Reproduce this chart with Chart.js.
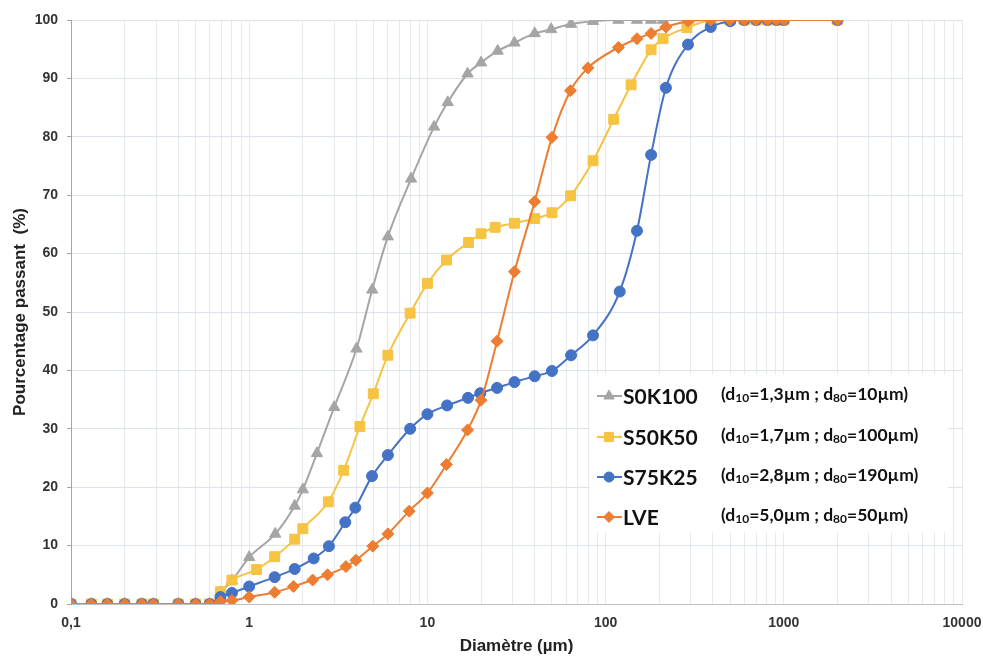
<!DOCTYPE html>
<html><head><meta charset="utf-8">
<script src="https://cdn.jsdelivr.net/npm/chart.js@4.4.1/dist/chart.umd.min.js"></script>
<style>html,body{margin:0;padding:0;background:#fff}#wrap{width:983px;height:657px}</style>
</head><body><div id="wrap"><canvas id="c" width="983" height="657"></canvas></div>
<script>
// ---- data ----
const seriesNames = ['S0K100', 'S50K50', 'S75K25', 'LVE'];
const legendD10 = ['1,3', '1,7', '2,8', '5,0'];
const legendD80 = ['10', '100', '190', '50'];

const s0k100X = [0.1,0.13,0.16,0.2,0.25,0.29,0.4,0.5,0.6,0.69,0.8,1.0,1.4,1.8,2.0,2.4,3.0,4.0,4.9,6.0,8.1,10.9,13,16.8,20,24.8,30.8,40,49.5,64,85,118,150,180,210,290,390,500,600,700,810,910,1000,2000];
const s0k100Y = [0,0,0,0,0,0,0,0,0,2,4,8,12,16.8,19.6,25.8,33.7,43.7,53.8,62.9,72.8,81.7,85.9,90.8,92.7,94.7,96.1,97.7,98.4,99.3,99.8,100,100,100,100,100,100,100,100,100,100,100,100,100];

const s50k50X = [0.1,0.13,0.16,0.2,0.25,0.29,0.4,0.5,0.6,0.69,0.8,1.1,1.39,1.8,2.0,2.78,3.39,4.18,4.97,6.0,8.0,10,12.8,17,20,24,30.8,40,50,63.6,85,111,139,180,210,286,389,500,600,700,810,910,1000,2000];
const s50k50Y = [0,0,0,0,0,0,0,0,0,2.1,4.1,5.9,8.1,11.1,12.9,17.5,22.9,30.4,36,42.6,49.8,54.9,58.9,61.9,63.4,64.5,65.2,66,67,69.9,75.9,83,88.9,94.9,96.8,98.7,99.9,100,100,100,100,100,100,100];

const s75k25X = [0.1,0.13,0.16,0.2,0.25,0.29,0.4,0.5,0.6,0.69,0.8,1.0,1.39,1.8,2.3,2.8,3.46,3.94,4.89,6.0,8.0,10,12.9,16.9,19.8,24.6,30.8,40,50,64,85,120,150,180,218,290,389,500,600,700,810,910,1000,2000];
const s75k25Y = [0,0,0,0,0,0,0,0,0,1.2,1.9,3.0,4.6,6.0,7.8,9.9,14,16.5,21.9,25.5,30,32.5,34,35.3,36.1,37,38,39,39.9,42.6,46,53.5,63.9,76.9,88.4,95.8,98.8,99.8,100,100,100,100,100,100];

const lveX = [0.1,0.13,0.16,0.2,0.25,0.29,0.4,0.5,0.6,0.69,0.8,1.0,1.39,1.77,2.27,2.75,3.49,3.97,4.94,6.0,7.9,10,12.8,16.8,20,24.6,30.8,40,50,63.5,79.6,118,150,180,218,290,389,500,600,700,810,910,1000,2000];
const lveY = [0,0,0,0,0,0,0,0,0,0.4,0.6,1.2,2.0,3.0,4.1,5.0,6.4,7.5,9.9,12,15.9,19,23.9,29.8,34.9,45,56.9,68.9,79.9,87.9,91.8,95.3,96.8,97.7,98.8,99.8,100,100,100,100,100,100,100,100];

const xMajorTicks = [0.1, 1, 10, 100, 1000, 10000];
const xTickLabels = ['0,1', '1', '10', '100', '1000', '10000'];
const yTicks = [0,10,20,30,40,50,60,70,80,90,100];

// ---- build ----
const colors = ['#A5A5A5', '#F6C343', '#4472C4', '#ED7D31'];
const styles = ['triangle', 'rect', 'circle', 'rectRot'];
const radii = [6.5, 7, 5.5, 6];
const xs = [s0k100X, s50k50X, s75k25X, lveX];
const ys = [s0k100Y, s50k50Y, s75k25Y, lveY];
const orders = [3, 2, 1, 0];

const datasets = seriesNames.map((name, i) => ({
  label: name,
  data: xs[i].map((x, j) => ({x: x, y: ys[i][j]})),
  showLine: true,
  borderColor: colors[i],
  backgroundColor: colors[i],
  borderWidth: 2,
  pointStyle: styles[i],
  pointRadius: radii[i],
  pointBorderWidth: 1,
  pointBorderColor: colors[i],
  pointBackgroundColor: colors[i],
  cubicInterpolationMode: 'monotone',
  order: orders[i]
}));

const gridVals = [];
for (let d = 0; d < xMajorTicks.length - 1; d++) {
  for (let k = 1; k <= 9; k++) gridVals.push(+(k * xMajorTicks[d]).toPrecision(6));
}
gridVals.push(xMajorTicks[xMajorTicks.length - 1]);

function majorLabel(v) {
  for (let i = 0; i < xMajorTicks.length; i++) {
    if (Math.abs(v - xMajorTicks[i]) / xMajorTicks[i] < 1e-6) return xTickLabels[i];
  }
  return '';
}

const legendPlugin = {
  id: 'customLegend',
  afterDraw(chart) {
    const ctx = chart.ctx;
    ctx.save();
    ctx.fillStyle = '#ffffff';
    ctx.fillRect(590, 374, 358, 158);
    const rowY = [396, 437, 477, 517];
    [0, 1, 2, 3].forEach((i, r) => {
      const y = rowY[r];
      ctx.strokeStyle = colors[i];
      ctx.lineWidth = 2;
      ctx.beginPath(); ctx.moveTo(597, y); ctx.lineTo(622, y); ctx.stroke();
      ctx.fillStyle = colors[i];
      ctx.lineWidth = 1;
      Chart.helpers.drawPoint(ctx, {pointStyle: styles[i], radius: radii[i] - 0.5, rotation: 0, borderWidth: 1}, 609, y);
      ctx.fillStyle = '#111';
      ctx.textBaseline = 'middle';
      ctx.textAlign = 'left';
      ctx.font = 'bold 21px Lato';
      ctx.fillText(seriesNames[i], 623, y + 1);
      let x = 721;
      const big = 'bold 17.5px Lato', small = 'bold 12px Lato';
      const parts = [
        ['(d', big, 0], ['10', small, 4], ['=' + legendD10[i] + 'µm ; d', big, 0], ['80', small, 4], ['=' + legendD80[i] + 'µm)', big, 0]
      ];
      parts.forEach(p => {
        ctx.font = p[1];
        ctx.fillText(p[0], x, y - 2 + p[2]);
        x += ctx.measureText(p[0]).width;
      });
    });
    ctx.restore();
  }
};

new Chart(document.getElementById('c'), {
  type: 'scatter',
  data: {datasets},
  plugins: [legendPlugin],
  options: {
    responsive: false,
    animation: false,
    layout: {padding: {left: 0, right: 21, top: 20, bottom: 0}},
    plugins: {legend: {display: false}, tooltip: {enabled: false}},
    scales: {
      x: {
        type: 'logarithmic',
        min: 0.1, max: 10000,
        afterBuildTicks(scale) { scale.ticks = gridVals.map(v => ({value: v})); },
        afterFit(scale) { scale.height = 53; scale.paddingRight = 0; scale.paddingLeft = 0; },
        ticks: {
          autoSkip: false, maxRotation: 0, minRotation: 0, padding: 11,
          color: '#333', font: {family: 'Liberation Sans', size: 14, weight: 'bold'},
          callback: (v) => majorLabel(v)
        },
        grid: {color: '#E6E9EE', drawTicks: false, lineWidth: 1},
        border: {color: '#BFBFBF', width: 1},
        title: {display: true, text: 'Diamètre (µm)', color: '#222', padding: {top: 0, bottom: 0},
          font: {family: 'Liberation Sans', size: 17, weight: 'bold'}}
      },
      y: {
        min: 0, max: 100,
        afterBuildTicks(scale) { scale.ticks = yTicks.map(v => ({value: v})); },
        afterFit(scale) { scale.width = 71; },
        ticks: {padding: 9, color: '#333', font: {family: 'Liberation Sans', size: 14, weight: 'bold'}},
        grid: {color: '#DDE3EA', tickColor: '#A6A6A6', tickLength: 4, drawTicks: true},
        border: {color: '#A6A6A6', width: 1},
        title: {display: true, text: 'Pourcentage passant  (%)', color: '#222', padding: {top: 10, bottom: 0},
          font: {family: 'Liberation Sans', size: 17, weight: 'bold'}}
      }
    }
  }
});
</script></body></html>
